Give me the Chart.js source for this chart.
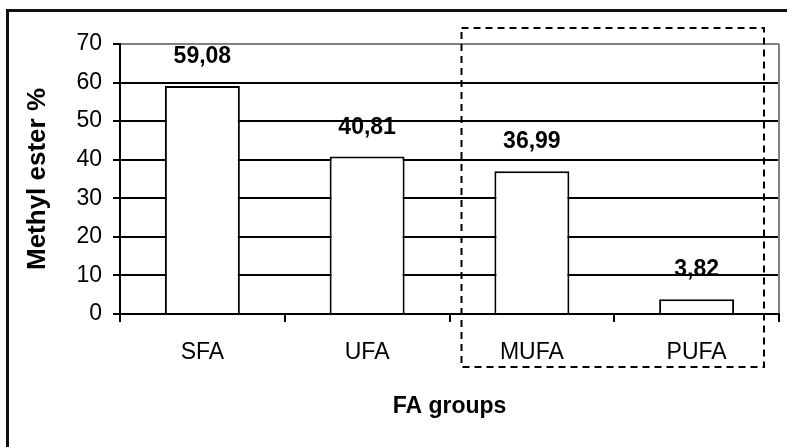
<!DOCTYPE html>
<html>
<head>
<meta charset="utf-8">
<script src="https://cdn.jsdelivr.net/npm/chart.js@4.4.1/dist/chart.umd.min.js"></script>
<style>
  html, body { margin: 0; padding: 0; background: #fff; }
  #wrap { position: relative; width: 787px; height: 447px; }
</style>
</head>
<body>
<div id="wrap"><canvas id="c" width="787" height="447"></canvas></div>
<script>
// Fatty-acid groups and their methyl ester share (%)
const categories = ['SFA', 'UFA', 'MUFA', 'PUFA'];
const methylEster = [59.08, 40.81, 36.99, 3.82];
const yTicks = [0, 10, 20, 30, 40, 50, 60, 70];
const xTitle = 'FA groups';
const yTitle = 'Methyl ester %';

const SANS = '"Liberation Sans", Arial, sans-serif';
const NARROW = '"Liberation Sans Narrow", "Arial Narrow", "Liberation Sans", sans-serif';

const fmt = v => v.toFixed(2).replace('.', ',');

// Frame around the whole figure (left and top edges visible)
const framePlugin = {
  id: 'frame',
  beforeDraw(chart) {
    const ctx = chart.ctx;
    ctx.save();
    ctx.strokeStyle = '#111';
    ctx.lineWidth = 3;
    ctx.beginPath();
    ctx.moveTo(7.5, chart.height + 5);
    ctx.lineTo(7.5, 10.5);
    ctx.lineTo(chart.width + 5, 10.5);
    ctx.stroke();
    ctx.restore();
  }
};

// Grey right edge of the plot area
const plotEdgePlugin = {
  id: 'plotEdge',
  beforeDatasetsDraw(chart) {
    const { ctx, chartArea } = chart;
    ctx.save();
    ctx.strokeStyle = '#808080';
    ctx.lineWidth = 2;
    ctx.beginPath();
    ctx.moveTo(chartArea.right, chartArea.top);
    ctx.lineTo(chartArea.right, chartArea.bottom);
    ctx.stroke();
    ctx.restore();
  }
};

// Value labels above each bar
const valueLabelPlugin = {
  id: 'valueLabels',
  afterDatasetsDraw(chart) {
    const ctx = chart.ctx;
    const meta = chart.getDatasetMeta(0);
    ctx.save();
    ctx.fillStyle = '#000';
    ctx.font = 'bold 23px ' + SANS;
    ctx.textAlign = 'center';
    ctx.textBaseline = 'alphabetic';
    meta.data.forEach((bar, i) => {
      ctx.fillText(fmt(methylEster[i]), bar.x, bar.y - 23);
    });
    ctx.restore();
  }
};

// Dashed box grouping the MUFA and PUFA columns
const groupBoxPlugin = {
  id: 'groupBox',
  afterDraw(chart) {
    const { ctx } = chart;
    const xs = chart.scales.x, ys = chart.scales.y;
    const half = (xs.getPixelForValue(1) - xs.getPixelForValue(0)) / 2;
    const left = xs.getPixelForValue(2) - half + 12;
    const right = xs.getPixelForValue(3) + half - 15;
    const top = ys.getPixelForValue(70) - 16;
    const bottom = ys.getPixelForValue(0) + 53;
    ctx.save();
    ctx.strokeStyle = '#000';
    ctx.lineWidth = 2;
    ctx.setLineDash([7, 5]);
    ctx.strokeRect(left, top, right - left, bottom - top);
    ctx.restore();
  }
};

new Chart(document.getElementById('c'), {
  type: 'bar',
  data: {
    labels: categories,
    datasets: [{
      data: methylEster,
      backgroundColor: '#ffffff',
      borderColor: '#000000',
      borderWidth: 2,
      borderSkipped: 'start',
      categoryPercentage: 1.0,
      barPercentage: 0.455
    }]
  },
  options: {
    responsive: false,
    animation: false,
    devicePixelRatio: 1,
    layout: { padding: { top: 44, right: 8, left: 0, bottom: 0 } },
    plugins: {
      legend: { display: false },
      tooltip: { enabled: false }
    },
    scales: {
      x: {
        offset: true,
        grid: {
          display: true,
          offset: true,
          drawOnChartArea: false,
          drawTicks: true,
          tickLength: 8,
          color: '#000',
          lineWidth: 2
        },
        border: { display: true, color: '#000', width: 2, z: 1 },
        ticks: {
          color: '#000',
          font: { family: NARROW, size: 23 },
          padding: 17,
          maxRotation: 0
        },
        title: {
          display: true,
          text: xTitle,
          color: '#000',
          font: { family: SANS, size: 23, weight: 'bold' },
          padding: { top: 0, bottom: 27 }
        },
        afterFit(scale) { scale.height = 133; }
      },
      y: {
        min: 0,
        max: 70,
        afterBuildTicks(scale) { scale.ticks = yTicks.map(v => ({ value: v })); },
        grid: {
          color: ctx => (ctx.tick && ctx.tick.value === 70 ? '#808080' : '#000'),
          tickColor: '#000',
          lineWidth: 2,
          drawTicks: true,
          tickLength: 7
        },
        border: { display: true, color: '#000', width: 2 },
        ticks: {
          color: '#000',
          font: { family: SANS, size: 23 },
          padding: 11
        },
        title: {
          display: true,
          text: yTitle,
          color: '#000',
          font: { family: SANS, size: 26, weight: 'bold' },
          padding: { top: 22, bottom: 0 }
        },
        afterFit(scale) { scale.width = 120; }
      }
    }
  },
  plugins: [framePlugin, plotEdgePlugin, valueLabelPlugin, groupBoxPlugin]
});
</script>
</body>
</html>
